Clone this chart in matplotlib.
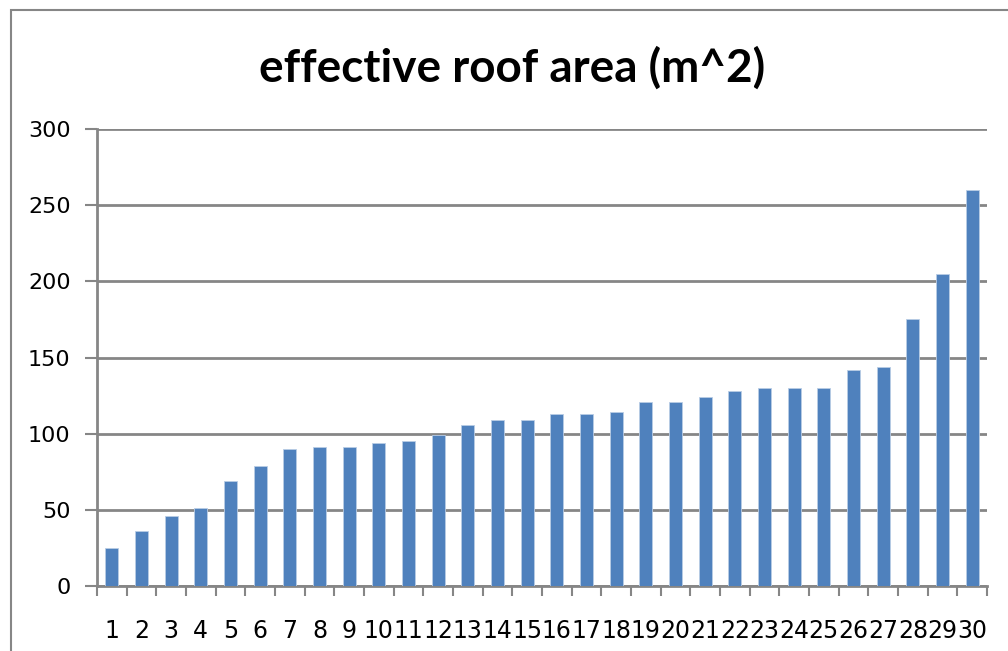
import numpy as np
import matplotlib
matplotlib.use("Agg")
from matplotlib import pyplot as plt
from matplotlib.patches import Rectangle

# data
houses = [str(i) for i in range(1, 31)]
roof_area = [25, 36, 46, 51, 69, 79, 90, 91, 91, 94,
             95, 99, 106, 109, 109, 113, 113, 114, 121, 121,
             124, 128, 130, 130, 130, 142, 144, 175, 205, 260]
y_ticks = [0, 50, 100, 150, 200, 250, 300]

bar_color = "#4F81BD"
grid_color = "#868686"

fig = plt.figure(figsize=(10.08, 6.51), dpi=100)

# outer chart-area border (cut off at the right and bottom like the reference)
fig.patches.append(Rectangle((11 / 1008, -0.05), 1.2, 1 - 10 / 651 + 0.05,
                             transform=fig.transFigure, fill=False,
                             edgecolor=grid_color, linewidth=1.5))

ax = fig.add_axes([97 / 1008, 1 - 586 / 651, 890 / 1008, (586 - 129) / 651])

x = np.arange(len(houses))
ax.bar(x, roof_area, width=0.44, color=bar_color, edgecolor="#B9CDE5", linewidth=0.6, zorder=3)

ax.set_xlim(-0.5, len(houses) - 0.5)
ax.set_ylim(0, 300)
ax.set_yticks(y_ticks)
ax.set_yticklabels([str(v) for v in y_ticks], family="DejaVu Sans", fontsize=16)
ax.yaxis.grid(True, color=grid_color, linewidth=2, zorder=0)

# category labels at centers, tick marks at boundaries
ax.set_xticks(x)
ax.set_xticklabels(houses, family=["Liberation Sans Narrow", "DejaVu Sans"], fontsize=17)
ax.set_xticks(np.arange(len(houses) + 1) - 0.5, minor=True)
ax.tick_params(axis="x", which="major", length=0, pad=24)
ax.tick_params(axis="x", which="minor", length=7, width=1.5, color=grid_color, direction="out")
ax.tick_params(axis="y", length=9, width=1.5, color=grid_color, direction="out", pad=10)

for side in ["top", "right"]:
    ax.spines[side].set_visible(False)
for side in ["left", "bottom"]:
    ax.spines[side].set_color(grid_color)
    ax.spines[side].set_linewidth(2)

fig.text(512 / 1008, 1 - 68 / 651, "effective roof area (m^2)", ha="center", va="center",
         fontsize=33, fontweight="bold", family=["Lato", "DejaVu Sans"])

fig.savefig("out.png", dpi=100)
